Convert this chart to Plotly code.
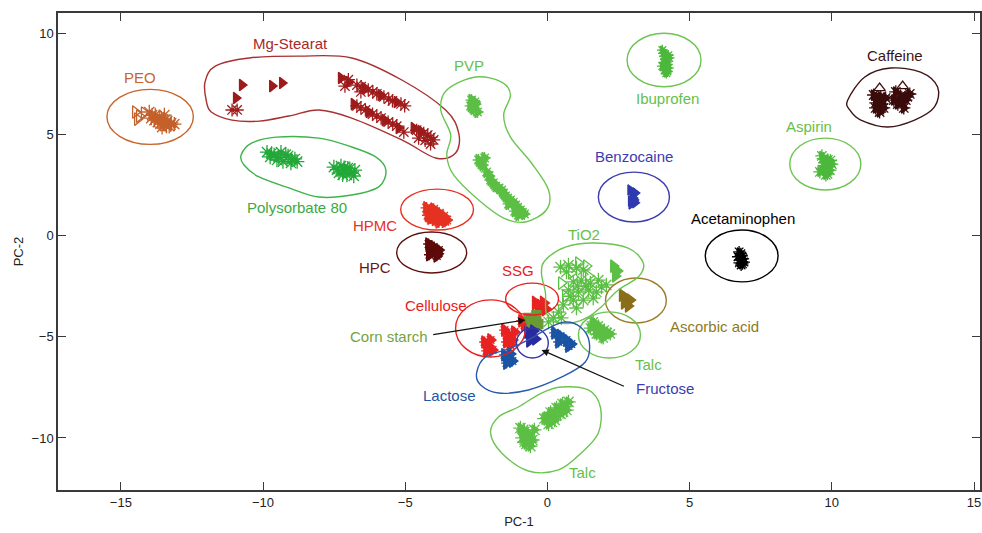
import plotly.graph_objects as go

# ---------------- PCA scores (PC-1, PC-2) ----------------
PEO_TRI = [(-14.49, 6.10), (-14.35, 5.90), (-14.18, 6.05), (-14.42, 5.75)]
PEO_AST = [(-14.0, 6.10), (-13.79, 5.95), (-13.58, 5.80), (-13.37, 5.65), (-13.82, 5.70),
           (-13.61, 5.51), (-13.40, 5.41), (-13.23, 5.56), (-13.93, 5.80), (-13.47, 5.95),
           (-13.70, 5.60), (-13.50, 5.50), (-13.30, 5.40), (-13.90, 5.95), (-13.65, 5.85),
           (-13.45, 5.70), (-13.25, 5.48), (-13.55, 5.35), (-13.12, 5.50)]

MG_TRI = [(-10.74, 7.43), (-10.95, 6.79), (-9.68, 7.38), (-9.33, 7.53),
          (-7.26, 7.78), (-6.98, 7.58), (-6.42, 7.28), (-5.86, 6.94), (-5.30, 6.59),
          (-6.81, 6.49), (-6.28, 6.10), (-5.72, 5.70), (-5.23, 5.31), (-4.70, 5.31), (-4.46, 5.16)]
MG_AST = [(-11.09, 6.20), (-10.91, 6.20),
          (-7.12, 7.38), (-6.70, 7.43), (-6.56, 7.09), (-6.14, 7.09), (-5.58, 6.74), (-5.02, 6.40),
          (-6.56, 6.30), (-6.0, 5.90), (-5.44, 5.51), (-5.05, 5.11),
          (-4.21, 4.96), (-4.0, 4.72), (-4.53, 4.81), (-4.11, 4.52),
          (-7.0, 7.70), (-6.55, 7.35), (-6.30, 7.20), (-6.0, 7.0), (-5.75, 6.85), (-5.45, 6.65),
          (-5.15, 6.50), (-6.70, 6.40), (-6.40, 6.20), (-6.15, 6.0), (-5.85, 5.80), (-5.60, 5.60),
          (-5.30, 5.40), (-4.60, 5.20), (-4.35, 5.05), (-4.30, 4.70), (-4.10, 4.85)]

POLY80 = [(-9.86, 4.12), (-9.61, 3.98), (-9.37, 4.12), (-9.12, 3.93), (-8.88, 3.78),
          (-9.51, 3.73), (-9.02, 3.58), (-9.75, 3.88),
          (-9.70, 4.05), (-9.45, 3.85), (-9.20, 4.0), (-9.0, 3.75), (-8.80, 3.65), (-9.30, 3.65),
          (-7.51, 3.38), (-7.26, 3.43), (-7.02, 3.33), (-6.77, 3.23), (-7.33, 3.09),
          (-7.05, 2.99), (-6.81, 2.94), (-7.16, 3.19),
          (-7.40, 3.25), (-7.15, 3.35), (-6.90, 3.10), (-7.20, 3.0), (-6.95, 3.30)]

PVP = [(-2.67, 6.69), (-2.53, 6.49), (-2.60, 6.25), (-2.46, 6.10), (-2.70, 6.40),
       (-2.55, 6.60), (-2.62, 6.35),
       (-2.42, 3.73), (-2.28, 3.48), (-2.14, 3.14), (-2.0, 2.74), (-1.82, 2.44), (-1.61, 2.25),
       (-1.47, 1.95), (-1.30, 1.75), (-1.12, 1.51), (-0.95, 1.26), (-0.81, 1.06),
       (-1.02, 1.01), (-1.37, 1.56), (-2.21, 3.83),
       (-2.35, 3.60), (-2.05, 2.95), (-1.90, 2.60), (-1.70, 2.35), (-1.55, 2.10),
       (-1.40, 1.85), (-1.20, 1.65), (-1.05, 1.40), (-0.88, 1.15), (-1.15, 1.20)]

IBUPROFEN = [(4.04, 9.16), (4.11, 8.86), (4.18, 8.57), (4.25, 8.27), (4.18, 8.02),
             (4.04, 8.37), (4.28, 8.77), (4.08, 9.0), (4.15, 8.70), (4.22, 8.45),
             (4.12, 8.15), (4.22, 8.10), (4.10, 8.55), (4.25, 8.90)]
ASPIRIN = [(9.65, 3.93), (9.86, 3.73), (9.72, 3.43), (9.93, 3.23), (9.79, 2.99),
           (9.58, 3.14), (10.0, 3.53), (9.70, 3.80), (9.90, 3.40), (9.75, 3.60),
           (9.68, 3.25), (9.85, 3.05), (9.95, 3.70)]
CAFFEINE = [(11.47, 6.94), (11.61, 6.69), (11.75, 6.49), (11.54, 6.30), (11.68, 6.10),
            (11.89, 6.79), (11.82, 6.30), (11.55, 6.55), (11.72, 6.85),
            (12.25, 7.09), (12.42, 6.89), (12.60, 6.69), (12.32, 6.49), (12.53, 6.30),
            (12.74, 6.99), (12.18, 6.69), (12.45, 6.60), (12.65, 6.85)]
CAFFEINE_OPEN = [(11.68, 7.28), (12.49, 7.38)]
BENZOCAINE = [(2.91, 2.25), (2.98, 2.0), (3.05, 1.75), (2.95, 1.56), (3.09, 2.10),
              (3.0, 2.15), (3.02, 1.85), (2.93, 1.70), (3.08, 1.62)]
ACETAMINOPHEN = [(6.74, -0.81), (6.84, -1.01), (6.77, -1.21), (6.91, -1.31), (6.81, -1.46),
                 (6.80, -0.90), (6.88, -1.15), (6.75, -1.35), (6.86, -1.40), (6.70, -1.05)]
HPMC = [(-4.25, 1.36), (-4.07, 1.16), (-3.89, 1.01), (-3.72, 0.86), (-3.54, 0.77),
        (-4.11, 0.86), (-3.82, 0.67), (-4.0, 1.30), (-3.80, 1.10), (-3.65, 0.95),
        (-4.20, 1.0), (-3.95, 0.80), (-3.60, 0.70)]
HPC = [(-4.18, -0.42), (-4.0, -0.57), (-3.82, -0.72), (-4.07, -0.86), (-3.89, -1.01),
       (-4.10, -0.50), (-3.95, -0.75), (-4.15, -0.95), (-3.85, -0.90)]

TIO2_AST = [(0.46, -1.56), (0.74, -1.46), (1.02, -1.60), (0.67, -1.80), (1.26, -1.70),
            (0.91, -2.29), (1.19, -2.20), (1.51, -2.35), (1.79, -2.20), (2.07, -2.44),
            (1.44, -2.69), (1.72, -2.79), (1.09, -2.79), (0.74, -2.69), (0.91, -3.19),
            (1.26, -3.19), (1.61, -3.09), (0.56, -3.43), (1.02, -3.58), (0.39, -3.78),
            (0.21, -4.07), (0.04, -4.27), (0.49, -4.07), (1.35, -2.50), (1.05, -2.50),
            (0.80, -3.0), (1.90, -2.55)]
TIO2_TRI = [(2.32, -1.51), (2.46, -1.75), (2.39, -2.0)]
TIO2_OPEN = [(1.09, -1.36), (1.37, -1.51), (0.84, -1.85), (1.44, -2.0), (0.49, -2.35), (0.63, -2.99)]

ASCORBIC = [(2.63, -2.94), (2.77, -3.09), (2.91, -3.19), (2.70, -3.33), (2.84, -3.48)]
TALC_A = [(1.61, -4.27), (1.79, -4.47), (2.0, -4.67), (2.21, -4.86), (1.72, -4.86),
          (1.96, -5.06), (1.51, -4.57), (1.65, -4.40), (1.85, -4.60), (2.10, -4.80),
          (1.90, -4.90), (1.70, -4.70)]
SSG = [(-0.42, -3.33), (-0.25, -3.48), (-0.07, -3.63), (-0.32, -3.68), (-0.14, -3.33)]
CELLULOSE = [(-2.21, -5.26), (-2.07, -5.46), (-1.93, -5.65), (-2.14, -5.70), (-2.0, -5.16),
             (-1.51, -4.67), (-1.37, -4.91), (-1.23, -5.16), (-1.44, -5.26), (-1.16, -4.77),
             (-1.30, -5.41), (-0.91, -4.22), (-0.81, -4.42)]
CORN_STARCH = [(-0.67, -4.07), (-0.46, -4.17), (-0.32, -4.37), (-0.56, -4.42), (-0.39, -3.93)]
FRUCTOSE = [(-0.70, -4.77), (-0.56, -4.91), (-0.42, -5.11), (-0.63, -5.21), (-0.49, -4.72)]
LACTOSE = [(-1.51, -5.90), (-1.37, -6.05), (-1.23, -6.20), (-1.44, -6.30), (-1.30, -5.85),
           (0.25, -4.81), (0.46, -4.96), (0.67, -5.16), (0.84, -5.36), (0.39, -5.26), (0.74, -5.46)]
TALC_B = [(-0.95, -9.51), (-0.81, -9.70), (-0.67, -9.90), (-0.53, -10.10), (-0.74, -10.30),
          (-0.46, -9.60), (-0.88, -10.0), (-0.60, -10.40), (-0.85, -9.60), (-0.70, -9.80),
          (-0.60, -10.20), (-0.80, -10.20),
          (-0.11, -9.04), (0.11, -8.74), (0.32, -8.52), (0.53, -8.32), (0.74, -8.22),
          (0.25, -9.11), (0.46, -8.81), (0.67, -8.62), (0.04, -9.31), (0.0, -9.0),
          (0.20, -8.90), (0.40, -8.60), (0.60, -8.45), (0.15, -9.20), (0.55, -8.70)]

# ---------------- group outlines ----------------
# ellipses: (centre x, centre y, half-width, half-height)
ELL_PEO = (-13.97, 5.86, 1.52, 1.36)
ELL_IBUPROFEN = (4.10, 8.67, 1.30, 1.32)
ELL_ASPIRIN = (9.77, 3.53, 1.25, 1.28)
ELL_BENZOCAINE = (3.04, 1.90, 1.25, 1.23)
ELL_ACETAMINOPHEN = (6.83, -1.01, 1.28, 1.28)
ELL_HPMC = (-3.88, 1.28, 1.28, 1.01)
ELL_HPC = (-4.07, -0.84, 1.23, 1.01)
ELL_ASCORBIC = (3.11, -3.21, 1.07, 1.11)
ELL_TALC_A = (2.18, -4.91, 1.09, 1.14)
ELL_SSG = (-0.54, -3.14, 0.93, 0.79)
ELL_CELLULOSE = (-2.0, -4.59, 1.23, 1.41)
ELL_FRUCTOSE = (-0.53, -5.31, 0.56, 0.74)

# free-form outlines (vertices of closed smooth curves)
OUT_MG = [(-12.0, 6.69), (-12.04, 7.58), (-11.68, 8.37), (-10.49, 8.77), (-8.74, 8.86),
          (-6.88, 8.77), (-5.12, 7.68), (-3.58, 6.20), (-3.12, 5.06), (-3.23, 4.07),
          (-3.93, 3.83), (-5.12, 4.72), (-6.88, 5.80), (-8.04, 6.20), (-9.09, 5.90),
          (-10.14, 5.65), (-11.09, 5.70), (-11.82, 6.10)]
OUT_POLY80 = [(-10.77, 3.98), (-10.39, 4.57), (-9.54, 4.86), (-8.04, 4.81), (-6.88, 4.37),
              (-6.04, 3.88), (-5.68, 3.23), (-5.93, 2.40), (-6.88, 2.0), (-8.04, 1.90),
              (-9.09, 2.35), (-10.14, 2.89), (-10.67, 3.48)]
OUT_PVP = [(-2.53, 7.83), (-1.61, 7.58), (-1.30, 6.94), (-1.54, 5.95), (-1.30, 4.86),
           (-0.56, 3.58), (0.04, 2.25), (-0.04, 1.26), (-0.77, 0.67), (-1.54, 0.86),
           (-2.42, 1.75), (-3.30, 2.99), (-3.54, 3.98), (-3.40, 4.96), (-3.75, 6.20),
           (-3.54, 7.19)]
OUT_CAFFEINE = [(10.56, 6.69), (11.16, 7.83), (12.07, 8.27), (13.12, 8.07), (13.72, 7.33),
                (13.61, 6.35), (12.91, 5.70), (11.96, 5.36), (11.02, 5.70), (10.63, 6.20)]
OUT_TIO2 = [(-0.21, -1.85), (-0.07, -1.21), (0.63, -0.57), (1.68, -0.37), (2.84, -0.62),
            (3.37, -1.36), (3.19, -2.05), (2.49, -2.69), (1.89, -3.53), (1.44, -4.02),
            (0.84, -4.32), (0.28, -4.27), (-0.04, -3.83), (-0.07, -2.84)]
OUT_LACTOSE = [(-2.49, -6.79), (-2.18, -6.0), (-1.37, -5.60), (-0.67, -5.16), (0.04, -4.57),
               (0.63, -4.27), (1.16, -4.52), (1.47, -5.26), (1.33, -6.25), (0.49, -7.0),
               (-0.67, -7.63), (-1.72, -7.78), (-2.35, -7.38)]
OUT_TALC_B = [(0.49, -7.48), (1.44, -7.63), (1.86, -8.47), (1.79, -9.75), (1.19, -10.74),
              (0.39, -11.58), (-0.67, -11.63), (-1.61, -10.74), (-2.0, -9.75), (-1.72, -8.96),
              (-1.02, -8.47), (-0.21, -7.78)]

# ---------------- group labels ----------------
LABELS = [
    ("PEO", -14.32, 7.78, "#c8652c"),
    ("Mg-Stearat", -9.05, 9.46, "#a82828"),
    ("Polysorbate 80", -8.81, 1.36, "#3aaa45"),
    ("PVP", -2.77, 8.42, "#66c04a"),
    ("Ibuprofen", 4.21, 6.79, "#66c04a"),
    ("Caffeine", 12.21, 8.91, "#3d1414"),
    ("Aspirin", 9.19, 5.36, "#66c04a"),
    ("Benzocaine", 3.05, 3.88, "#3c3cb0"),
    ("HPMC", -6.07, 0.47, "#e8301f"),
    ("HPC", -6.07, -1.60, "#6b1515"),
    ("Acetaminophen", 6.88, 0.86, "#000000"),
    ("TiO2", 1.30, 0.07, "#66c04a"),
    ("SSG", -1.05, -1.75, "#e82020"),
    ("Cellulose", -3.93, -3.48, "#e82020"),
    ("Corn starch", -5.58, -5.01, "#74a33e"),
    ("Ascorbic acid", 5.86, -4.47, "#8e7a22"),
    ("Talc", 3.54, -6.35, "#66c04a"),
    ("Fructose", 4.14, -7.58, "#3c3cb0"),
    ("Lactose", -3.44, -7.88, "#2057a8"),
    ("Talc", 1.23, -11.73, "#66c04a"),
]

# arrows: (tail x, tail y, head x, head y)
ARROW_CORN = (-4.07, -4.91, -0.77, -4.17)
ARROW_FRUCTOSE = (2.74, -7.48, -0.21, -5.65)

FONT = "Liberation Sans, Arial, sans-serif"

fig = go.Figure()


def add_points(pts, color, symbol, size=10, width=1.3):
    fig.add_trace(go.Scatter(
        x=[p[0] for p in pts], y=[p[1] for p in pts], mode="markers",
        marker=dict(symbol=symbol, size=size, color=color,
                    line=dict(color=color, width=width)),
        showlegend=False, hoverinfo="skip"))


def smooth_closed_path(pts):
    n = len(pts)
    d = f"M {pts[0][0]},{pts[0][1]}"
    for i in range(n):
        p0, p1, p2, p3 = pts[i - 1], pts[i], pts[(i + 1) % n], pts[(i + 2) % n]
        c1 = (p1[0] + (p2[0] - p0[0]) / 6, p1[1] + (p2[1] - p0[1]) / 6)
        c2 = (p2[0] - (p3[0] - p1[0]) / 6, p2[1] - (p3[1] - p1[1]) / 6)
        d += f" C {c1[0]:.3f},{c1[1]:.3f} {c2[0]:.3f},{c2[1]:.3f} {p2[0]},{p2[1]}"
    return d + " Z"


def add_ellipse(e, color):
    cx, cy, rx, ry = e
    fig.add_shape(type="circle", xref="x", yref="y",
                  x0=cx - rx, x1=cx + rx, y0=cy - ry, y1=cy + ry,
                  line=dict(color=color, width=1.4), layer="above")


def add_outline(pts, color):
    fig.add_shape(type="path", xref="x", yref="y", path=smooth_closed_path(pts),
                  line=dict(color=color, width=1.4), layer="above")


LIGHT_GREEN = "#5cbf45"
RED = "#e82222"

# points
add_points(PEO_TRI, "#c4602a", "triangle-right-open", 11)
add_points(PEO_AST, "#c4602a", "asterisk-open", 12)
add_points(MG_TRI, "#9e1b1b", "triangle-right", 10)
add_points(MG_AST, "#9e1b1b", "asterisk-open", 11)
add_points(POLY80, "#22a838", "asterisk-open", 12)
add_points(PVP, LIGHT_GREEN, "triangle-right", 10)
add_points(PVP, LIGHT_GREEN, "asterisk-open", 10)
add_points(IBUPROFEN, "#4cb83c", "asterisk-open", 9)
add_points(IBUPROFEN, "#4cb83c", "triangle-right", 7)
add_points(ASPIRIN, "#4cb83c", "asterisk-open", 11)
add_points(ASPIRIN, "#4cb83c", "triangle-right", 8)
add_points(CAFFEINE, "#3a0c0c", "asterisk-open", 11)
add_points(CAFFEINE, "#3a0c0c", "triangle-right", 9)
add_points(CAFFEINE_OPEN, "#3a0c0c", "triangle-up-open", 10)
add_points(BENZOCAINE, "#2e3aae", "triangle-right", 9)
add_points(ACETAMINOPHEN, "#000000", "asterisk-open", 10)
add_points(ACETAMINOPHEN, "#000000", "triangle-right", 7)
add_points(HPMC, "#e53222", "triangle-right", 11)
add_points(HPMC, "#e53222", "asterisk-open", 10)
add_points(HPC, "#5e0a0a", "triangle-right", 11)
add_points(HPC, "#5e0a0a", "asterisk-open", 9)
add_points(TIO2_AST, LIGHT_GREEN, "asterisk-open", 12)
add_points(TIO2_TRI, LIGHT_GREEN, "triangle-right", 11)
add_points(TIO2_OPEN, LIGHT_GREEN, "triangle-right-open", 11)
add_points(ASCORBIC, "#8a6e1a", "triangle-right", 11)
add_points(TALC_A, LIGHT_GREEN, "asterisk-open", 11)
add_points(TALC_A, LIGHT_GREEN, "triangle-right", 9)
add_points(SSG, RED, "triangle-right", 12)
add_points(CELLULOSE, RED, "triangle-right", 11)
add_points(CELLULOSE, RED, "asterisk-open", 9)
add_points(CORN_STARCH, "#6a9a35", "square", 9)
add_points(FRUCTOSE, "#2a2aa0", "triangle-right", 11)
add_points(LACTOSE, "#1a55a5", "triangle-right", 11)
add_points(LACTOSE, "#1a55a5", "asterisk-open", 9)
add_points(TALC_B, LIGHT_GREEN, "asterisk-open", 12)
add_points(TALC_B, LIGHT_GREEN, "triangle-right", 9)

# outlines
add_ellipse(ELL_PEO, "#c8652c")
add_ellipse(ELL_IBUPROFEN, "#6cc451")
add_ellipse(ELL_ASPIRIN, "#6cc451")
add_ellipse(ELL_BENZOCAINE, "#3c3cb0")
add_ellipse(ELL_ACETAMINOPHEN, "#000000")
add_ellipse(ELL_HPMC, "#e8301f")
add_ellipse(ELL_HPC, "#5a1010")
add_ellipse(ELL_ASCORBIC, "#9a7d2a")
add_ellipse(ELL_TALC_A, "#6cc451")
add_ellipse(ELL_SSG, "#e82020")
add_ellipse(ELL_CELLULOSE, "#e82020")
add_ellipse(ELL_FRUCTOSE, "#3535a8")
add_outline(OUT_MG, "#a83030")
add_outline(OUT_POLY80, "#3db34a")
add_outline(OUT_PVP, "#6cc451")
add_outline(OUT_CAFFEINE, "#3d1414")
add_outline(OUT_TIO2, "#6cc451")
add_outline(OUT_LACTOSE, "#2a5aab")
add_outline(OUT_TALC_B, "#6cc451")

# labels
for text, lx, ly, col in LABELS:
    fig.add_annotation(x=lx, y=ly, text=text, showarrow=False,
                       font=dict(family=FONT, size=15, color=col))

for tx, ty, hx, hy in (ARROW_CORN, ARROW_FRUCTOSE):
    fig.add_annotation(x=hx, y=hy, ax=tx, ay=ty, xref="x", yref="y", axref="x", ayref="y",
                       text="", showarrow=True, arrowhead=2, arrowsize=1.2,
                       arrowwidth=1.2, arrowcolor="#111111")

axis_common = dict(showline=True, linecolor="#3a3a3a", linewidth=1.5, mirror="ticks",
                   ticks="inside", ticklen=8, tickwidth=1.2, tickcolor="#3a3a3a",
                   showgrid=False, zeroline=False,
                   tickfont=dict(family=FONT, size=13, color="#222222"))

fig.update_layout(
    width=982, height=533,
    margin=dict(l=58, r=0, t=13, b=43),
    paper_bgcolor="white", plot_bgcolor="white",
    showlegend=False,
    xaxis=dict(range=[-17.21, 15.21], tickvals=[-15, -10, -5, 0, 5, 10, 15],
               title=dict(text="PC-1", font=dict(family=FONT, size=13, color="#222222"),
                          standoff=8),
               **axis_common),
    yaxis=dict(range=[-12.57, 10.99], tickvals=[-10, -5, 0, 5, 10],
               title=dict(text="PC-2", font=dict(family=FONT, size=13, color="#222222"),
                          standoff=5),
               **axis_common),
)

fig.write_html("out.html")
